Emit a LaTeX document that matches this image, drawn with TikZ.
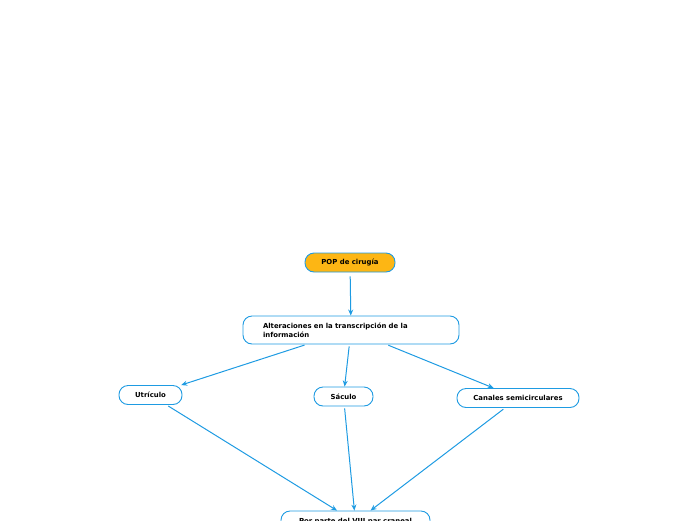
\documentclass[tikz,border=0pt]{standalone}
\usepackage{fontspec}
\setmainfont{DejaVu Sans}
\usetikzlibrary{arrows.meta}
\definecolor{mapblue}{HTML}{1E9BE2}
\definecolor{maporange}{HTML}{FDB614}

\begin{document}
\begin{tikzpicture}[x=1pt, y=-1pt,
        topic/.style={draw=mapblue, line width=0.9pt, rounded corners=9pt, fill=white,
            font=\fontsize{6.9}{9}\selectfont\bfseries, minimum height=19pt, inner xsep=12pt},
        link/.style={mapblue, line width=1pt, -{Stealth[length=6pt, width=5pt]}, shorten <=2pt}]
            \useasboundingbox (0, 0) rectangle (696, 520);
            \node[topic, fill=maporange, minimum width=90pt] (pop) at (350, 262.5) {POP de cirugía};
            \node[topic, minimum width=216pt, minimum height=28pt, text width=176pt, inner xsep=20pt, align=left] (alt) at (351, 330)
                {Alteraciones en la transcripción de la\\información};
            \node[topic, minimum width=63pt] (utr) at (150.5, 395) {Utrículo};
            \node[topic, minimum width=59pt] (sac) at (343.5, 396.5) {Sáculo};
            \node[topic, minimum width=122pt] (can) at (518, 398) {Canales semicirculares};
            \node[topic, minimum width=149pt, minimum height=22pt] (par) at (355.5, 522) {Por parte del VIII par craneal};
            % connectors
            \draw[link, shorten <=4pt] (pop) -- (alt);
            \draw[link] (alt) -- (utr);
            \draw[link] (alt) -- (sac);
            \draw[link] (alt) -- (can);
            \draw[link] (utr) -- (par);
            \draw[link] (sac) -- (par);
            \draw[link] (can) -- (par);
        \end{tikzpicture}
\end{document}
